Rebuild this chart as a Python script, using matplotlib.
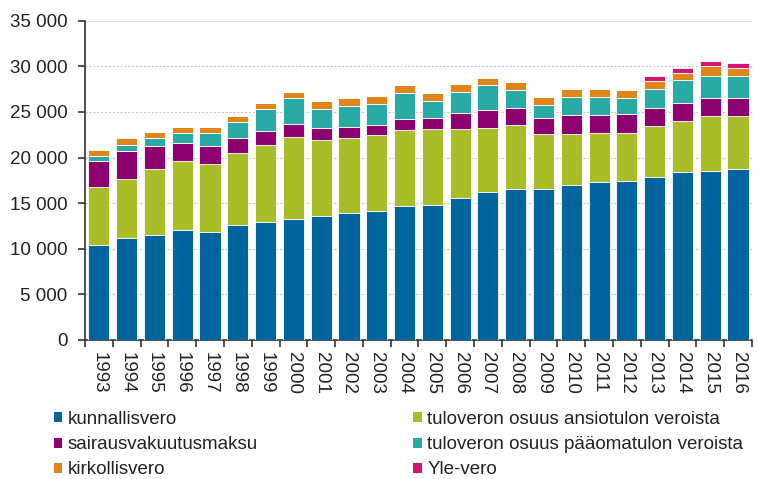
import matplotlib.pyplot as plt
import matplotlib.ticker as mticker
from matplotlib.patches import Patch
import numpy as np

plt.rcParams["font.family"] = ["Liberation Sans", "DejaVu Sans"]

# Vuodet
vuodet = [str(v) for v in range(1993, 2017)]

# Verolajit (milj. euroa)
kunnallisvero = [10400, 11140, 11500, 12020, 11840, 12570, 12900, 13230, 13640, 13970, 14150, 14670,
                 14820, 15510, 16250, 16580, 16580, 16940, 17270, 17460, 17820, 18370, 18560, 18740]
ansiotulo = [6360, 6540, 7240, 7610, 7460, 7940, 8490, 9040, 8310, 8160, 8340, 8340,
             8280, 7590, 7040, 7040, 5980, 5610, 5460, 5280, 5650, 5610, 5980, 5790]
sairausvakuutus = [2870, 3010, 2500, 1985, 1950, 1620, 1470, 1430, 1250, 1250, 1070, 1250,
                   1250, 1800, 1940, 1800, 1800, 2160, 1980, 1980, 1940, 1980, 1980, 1980]
paaomatulo = [510, 700, 850, 1065, 1430, 1760, 2460, 2830, 2130, 2280, 2280, 2830,
              1800, 2310, 2680, 1980, 1430, 1940, 1940, 1760, 2130, 2490, 2460, 2460]
kirkollisvero = [740, 700, 735, 700, 700, 700, 700, 700, 845, 880, 880, 880,
                 880, 845, 845, 845, 880, 880, 880, 880, 880, 845, 1060, 880]
yle_vero = [0, 0, 0, 0, 0, 0, 0, 0, 0, 0, 0, 0,
            0, 0, 0, 0, 0, 0, 0, 0, 550, 550, 510, 550]

sarjat = [
    ("kunnallisvero", kunnallisvero, "#00659c"),
    ("tuloveron osuus ansiotulon veroista", ansiotulo, "#a9bd29"),
    ("sairausvakuutusmaksu", sairausvakuutus, "#8d006f"),
    ("tuloveron osuus pääomatulon veroista", paaomatulo, "#2aaaa5"),
    ("kirkollisvero", kirkollisvero, "#e0841c"),
    ("Yle-vero", yle_vero, "#d11670"),
]

fig = plt.figure(figsize=(7.57, 4.79), dpi=100)
ax = fig.add_axes([0.1123, 0.2902, 0.881, 0.6666])

x = np.arange(len(vuodet))
pohja = np.zeros(len(vuodet))
kahvat = {}
for nimi, arvot, vari in sarjat:
    arvot = np.array(arvot, dtype=float)
    ax.bar(x, arvot, 0.76, bottom=pohja, color=vari, edgecolor="white", linewidth=0.6, zorder=3)
    kahvat[nimi] = Patch(facecolor=vari, edgecolor="none")
    pohja += arvot

ax.set_xlim(-0.5, len(vuodet) - 0.5)
ax.set_ylim(0, 35000)
ax.set_yticks(range(0, 35001, 5000))
ax.yaxis.set_major_formatter(mticker.FuncFormatter(lambda v, p: f"{int(v):,}".replace(",", " ")))

# apuviivat
for y in range(5000, 35000, 5000):
    ax.axhline(y, color="#c8c8c8", linewidth=0.8, linestyle=(0, (2, 1.5)), zorder=1)
ax.axhline(35000, color="#dddddd", linewidth=1.2, zorder=1)

for s in ["top", "right"]:
    ax.spines[s].set_visible(False)
ax.spines["left"].set_color("#333333")
ax.spines["bottom"].set_color("#333333")
ax.spines["left"].set_linewidth(1.2)
ax.spines["bottom"].set_linewidth(1.2)

ax.set_xticks(x)
ax.set_xticklabels(vuodet, rotation=-90, fontsize=13.5, color="#222222")
ax.set_xticks(np.arange(-0.5, len(vuodet)), minor=True)
ax.tick_params(axis="x", which="major", length=0, pad=9)
ax.tick_params(axis="x", which="minor", length=5, width=1.2, color="#333333")
ax.tick_params(axis="y", length=5, width=1.2, color="#333333", pad=7.5, labelsize=13.5, labelcolor="#222222")

# selite kahdessa sarakkeessa
vasen = ["kunnallisvero", "sairausvakuutusmaksu", "kirkollisvero"]
oikea = ["tuloveron osuus ansiotulon veroista", "tuloveron osuus pääomatulon veroista", "Yle-vero"]
for nimet, xpos in [(vasen, 0.071), (oikea, 0.546)]:
    leg = fig.legend([kahvat[n] for n in nimet], nimet, loc="upper left",
                     bbox_to_anchor=(xpos, 0.142), frameon=False, fontsize=13.5,
                     handlelength=0.45, handleheight=0.45, handletextpad=0.3,
                     labelspacing=0.44, borderaxespad=0, borderpad=0)
    for t in leg.get_texts():
        t.set_color("#222222")

fig.savefig("out.png", dpi=100)
